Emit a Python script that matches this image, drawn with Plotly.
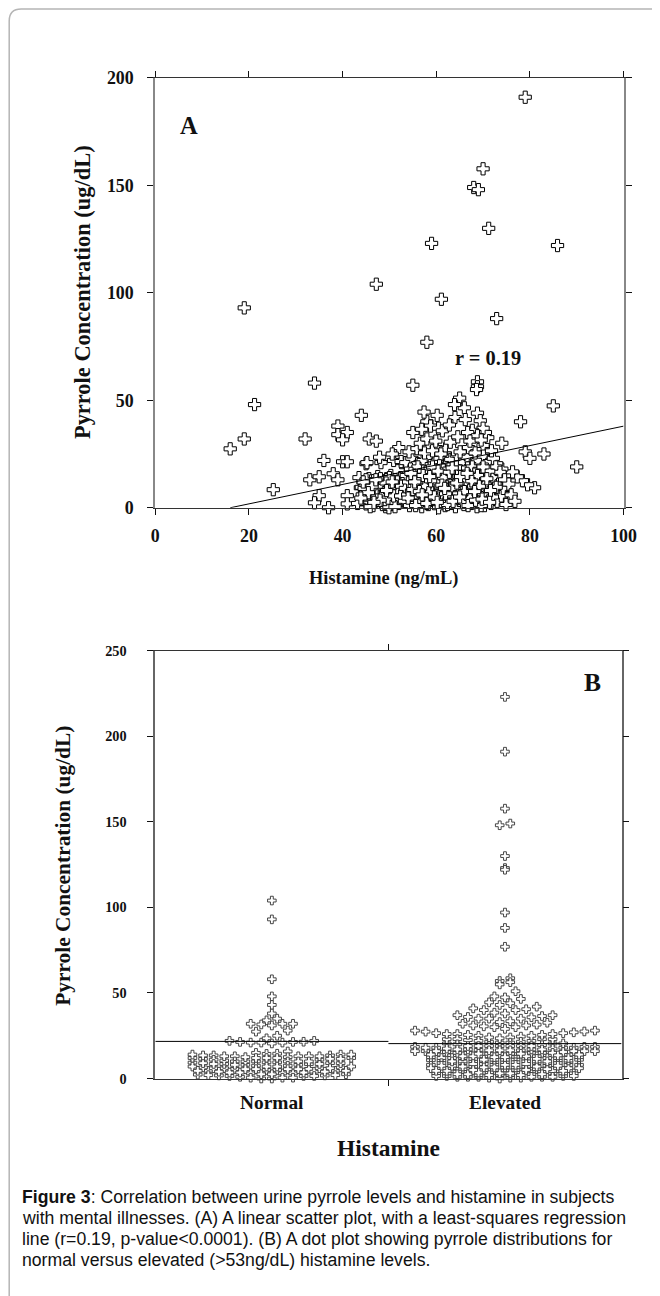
import numpy as np
import plotly.graph_objects as go

# ---------------- Panel A data (histamine ng/mL vs pyrrole ug/dL) ----------------
# subjects with normal histamine (< 53)
hist_normal = [19, 34, 21.2, 16, 19, 25.2, 32, 44, 39, 39,
               41, 40, 45.7, 47.2, 36, 40, 41, 45, 33, 35,
               38, 39, 35, 34, 37, 41, 41, 45, 43.8, 47.2, 52,
               43.5, 44.2, 44.8, 45.3, 45.6, 46.0, 46.2, 46.5, 46.8, 47.0,
               47.3, 47.5, 47.8, 48.0, 48.2, 48.4, 48.6, 48.8, 49.0, 49.2,
               49.4, 49.6, 49.8, 50.0, 50.1, 50.3, 50.5, 50.7, 50.9, 51.0,
               51.2, 51.4, 51.6, 51.8, 52.0, 52.2, 52.4, 52.6, 52.8, 44.0,
               45.0, 45.8, 46.6, 47.6, 48.5, 49.5, 50.4, 51.3, 52.1, 52.7,
               43.2, 44.6, 46.4, 47.2, 48.1, 49.1, 50.0, 50.8, 51.5, 52.3,
               45.2, 47.9, 50.6, 52.5, 46.9, 48.7, 49.9, 51.1, 52.9, 44.4,
               45.9, 47.4, 48.9, 50.2, 51.7, 52.2, 46.3, 49.3, 51.9, 48.3,
               50.6, 47.1, 52.6, 45.5, 49.7, 51.2, 43.9, 48.0, 50.9, 46.7,
               49.4, 52.4]
pyr_normal = [93, 58, 48, 27.4, 32, 8.4, 32, 43, 38, 34,
              35, 31.6, 32, 31, 22, 21.4, 21.4, 20.5, 13, 14.4,
              15.8, 13, 5.6, 2.3, 0, 5.6, 1.8, 1.8, 9.3, 104, 28,
              14, 6, 11, 3, 13.5, 8, 12.5, 1, 12, 5,
              10, 14.5, 2.5, 7.5, 21, 12, 4, 8.5, 9, 0.5,
              13.5, 6, 10, 3, 11, 15, 7, 1.5, 22, 9.5,
              13, 4.5, 6, 10.5, 2, 6.5, 14, 21, 8, 9.5,
              13, 4, 4.5, 11.5, 1.5, 1.5, 5, 3, 11.5, 3.5,
              2, 9, 6.5, 7, 13.5, 3.5, 14, 10, 6, 9,
              21, 23.5, 25, 21.5, 8.5, 10, 0, 2.5, 12.5, 12,
              0.5, 5.5, 7, 8.5, 12, 4, 10, 11.5, 7.5, 5.5,
              12, 13, 10, 7, 4.5, 0.5, 4.5, 3.5, 5.5, 2.5,
              8, 5.5]

# subjects with elevated histamine (>= 53)
hist_elev_outer = [79, 70, 68, 69, 71.2, 59, 85.9, 61.1, 72.9, 58,
                   55, 68.8, 68.8, 68.6, 85, 65, 66, 68.8, 69.4, 78,
                   64, 58, 58.8, 60.5, 61.3, 55, 74, 79, 80, 83,
                   90, 81, 79.5, 78.4, 77.3, 76.3, 75, 75.2, 74, 72.9,
                   71, 70.5, 70, 70, 67.7, 66.7, 68.8, 60, 62, 65]
pyr_elev_outer = [191, 157.7, 149, 148, 130, 123, 122, 97, 88, 77,
                  57, 58.6, 56.3, 55, 47.4, 51, 46.5, 44, 40.5, 40,
                  42, 40, 38, 37, 35.8, 35, 30, 26, 23, 25,
                  19, 9.3, 10.7, 12.6, 14.4, 16.7, 7.9, 4.7, 18, 20.5,
                  32.6, 35, 37, 29, 36, 35, 33.5, 28, 27.4, 223]

hist_elev_mid = [53.5, 54.8, 56.0, 57.2, 58.5, 59.6, 60.8, 62.0, 63.1, 64.3,
                 65.5, 66.6, 67.8, 68.9, 70.1, 71.3, 72.2, 54.2, 55.9, 57.5,
                 59.2, 61.0, 63.7, 65.1, 66.9, 68.3, 71.8, 56.6, 58.0, 59.9,
                 63.0, 64.6, 67.2, 69.6, 56.9, 62.8, 66.2, 60.2, 57.4, 63.9]
pyr_elev_mid = [21, 23, 20.5, 22, 24, 21.5, 23, 20, 22.5, 24.5,
                21, 23.5, 20.5, 22, 24, 21.5, 23, 26, 27.5, 25.5,
                26.5, 25, 27, 26, 28, 25.5, 26.5, 30, 32, 31,
                30.5, 33, 31, 31.5, 36.5, 38.5, 41, 43, 44.5, 48]

hist_elev_core = [53.2, 53.4, 53.6, 53.9, 54.1, 54.3, 54.5, 54.7, 54.9, 55.1, 55.3, 55.5, 55.7, 55.9, 56.1, 56.3, 56.5,
                  56.7, 56.9, 57.1, 57.3, 57.5, 57.7, 57.9, 58.1, 58.3, 58.5, 58.7, 58.9, 59.1, 59.3, 59.5, 59.7, 59.9,
                  60.1, 60.3, 60.5, 60.7, 60.9, 61.1, 61.3, 61.5, 61.7, 61.9, 62.1, 62.3, 62.5, 62.7, 62.9, 63.1, 63.3,
                  63.5, 63.7, 63.9, 64.1, 64.3, 64.5, 64.7, 64.9, 65.1, 65.3, 65.5, 65.7, 65.9, 66.1, 66.3, 66.5, 66.7,
                  66.9, 67.1, 67.3, 67.5, 67.7, 67.9, 68.1, 68.3, 68.5, 68.7, 68.9, 69.1, 69.3, 69.5, 69.7, 69.9, 70.1,
                  70.3, 70.5, 70.7, 70.9, 71.1, 71.3, 71.5, 71.7, 71.9, 72.1, 72.4, 72.7, 73.0, 73.3, 73.6, 73.9,
                  74.3, 74.6, 74.9, 75.5, 76.0, 76.8,
                  54.0, 55.0, 56.0, 56.8, 57.6, 58.4, 59.2, 60.0, 60.8, 61.6, 62.4, 63.2, 64.0, 64.8, 65.6, 66.4,
                  67.2, 68.0, 68.8, 69.6, 70.4, 71.2, 72.0, 72.8,
                  54.6, 55.6, 56.4, 57.2, 58.0, 58.8, 59.6, 60.4, 61.2, 62.0, 62.8, 63.6, 64.4, 65.2, 66.0, 66.8,
                  67.6, 68.4, 69.2, 70.0, 70.8, 71.6,
                  55.4, 57.0, 58.6, 60.2, 61.8, 63.4, 65.0, 66.6, 68.2, 69.8, 71.4]
pyr_elev_core = [3, 9, 15, 6, 12, 1, 18, 7.5, 13.5, 4, 10, 16.5, 2, 8, 19, 11.5, 5,
                 14, 0.5, 9, 17, 3.5, 12, 6.5, 15.5, 1.5, 10.5, 18.5, 4.5, 13, 8, 16, 2.5, 11,
                 6, 14.5, 0, 19.5, 9.5, 3, 12.5, 17.5, 7, 1, 15, 10, 4.5, 18, 8.5, 13.5, 2,
                 16, 5.5, 11, 0.5, 19, 8, 14, 3.5, 17, 10, 6, 12.5, 1.5, 15.5, 9, 4, 18.5,
                 11.5, 7, 14.5, 2, 19, 9.5, 5, 16, 12, 0.5, 8, 17.5, 3, 13, 6.5, 10.5, 15,
                 1, 8.5, 18, 4, 12, 6, 16, 2, 10, 14, 7, 19, 3, 11, 16.5, 5.5,
                 9, 13, 1.5, 11, 6, 3,
                 4.5, 8.5, 13, 3, 10, 7, 19, 12, 5.5, 14, 1.5, 9, 16.5, 6.5, 2.5, 13,
                 4.5, 10, 15, 1, 11, 17, 5, 9.5,
                 16, 1, 7.5, 15, 2, 12.5, 5, 17, 10.5, 6.5, 16.5, 3, 11.5, 14.5, 7.5, 1,
                 12.5, 3.5, 10, 19, 13.5, 8,
                 12, 6, 14.5, 2.5, 9, 18.5, 5, 16, 7.5, 4, 2.5]

hist_elev = hist_elev_outer + hist_elev_mid + hist_elev_core
pyr_elev = pyr_elev_outer + pyr_elev_mid + pyr_elev_core

# least-squares regression line
fit_slope = 0.452
fit_intercept = -7.24
fit_x = [16, 100]

# ---------------- Panel B ----------------
group_labels = ["Normal", "Elevated"]
group_centers = [0.25, 0.75]
group_lines = [21.7, 20.4]

a_xticks = [0, 20, 40, 60, 80, 100]
a_yticks = [0, 50, 100, 150, 200]
b_yticks = [0, 50, 100, 150, 200, 250]

SERIF = "Liberation Serif"
SANS = "Liberation Sans"

# The photographed page comes out slightly reduced and shifted; place everything
# so that it lands on the reference pixel positions.
SX, SY = 0.974, 0.985
OX, OY = 4.0, 9.2
BODY = 8
W, H = 668, 1302
FS = 1.0 / 0.98


def px(x):
    return ((x - OX) / SX - BODY) / W


def py(y):
    return 1 - ((y - OY) / SY - BODY) / H


def dot_rows(values, bin_w=4.7, max_cols=19):
    """Prism-like dot plot: values in the same row bin are spread sideways,
    wrapping into overlapping columns when a row is wider than max_cols."""
    vals = np.asarray(values, dtype=float)
    bins = np.floor(vals / bin_w).astype(int)
    pos = np.zeros(len(vals))
    for b in np.unique(bins):
        idx = np.where(bins == b)[0]
        idx = idx[np.argsort(vals[idx], kind="stable")]
        n = len(idx)
        per = int(np.ceil(n / max_cols))
        ncols = int(np.ceil(n / per))
        slots = np.arange(ncols) - (ncols - 1) / 2.0
        slots = slots[np.argsort(np.abs(slots) + 1e-3 * slots, kind="stable")]
        for k, i in enumerate(idx):
            pos[i] = slots[k % ncols]
    return pos


fig = go.Figure()

# Panel A scatter
all_h = np.array(hist_normal + hist_elev)
all_p = np.array(pyr_normal + pyr_elev)
mask = all_p <= 200
fig.add_trace(go.Scatter(
    x=all_h[mask], y=all_p[mask], mode="markers", xaxis="x", yaxis="y",
    marker=dict(symbol="cross", size=10 * FS, color="white",
                line=dict(color="black", width=1)),
    cliponaxis=False, showlegend=False, hoverinfo="skip"))
fx = np.array(fit_x, dtype=float)
fig.add_trace(go.Scatter(
    x=fx, y=fit_slope * fx + fit_intercept, mode="lines", xaxis="x", yaxis="y",
    line=dict(color="black", width=1), showlegend=False, hoverinfo="skip"))

# Panel B dot plot
col_step = 0.0227
for vals, c in zip([pyr_normal, pyr_elev], group_centers):
    offs = dot_rows(vals)
    fig.add_trace(go.Scatter(
        x=c + offs * col_step, y=vals, mode="markers", xaxis="x2", yaxis="y2",
        marker=dict(symbol="cross", size=7 * FS, color="white",
                    line=dict(color="#333", width=0.9)),
        cliponaxis=False, showlegend=False, hoverinfo="skip"))
for c, m in zip(group_centers, group_lines):
    fig.add_trace(go.Scatter(
        x=[c - 0.25, c + 0.25], y=[m, m], mode="lines", xaxis="x2", yaxis="y2",
        line=dict(color="black", width=1), showlegend=False, hoverinfo="skip"))

tick_a = dict(family=SERIF, size=17.5 * FS, color="#111", weight="bold")
tick_b = dict(family=SERIF, size=14 * FS, color="#111", weight="bold")

fig.update_layout(
    width=W, height=H, autosize=False,
    margin=dict(l=0, r=0, t=0, b=0),
    paper_bgcolor="white", plot_bgcolor="white",
    xaxis=dict(domain=[px(155), px(623)], range=[0, 100], tickvals=a_xticks,
               ticks="outside", ticklen=6, tickcolor="#111", mirror="ticks",
               showline=True, linecolor="#333", linewidth=1.3,
               showgrid=False, zeroline=False, anchor="y",
               tickfont=tick_a, ticklabelstandoff=6),
    yaxis=dict(domain=[py(507), py(77)], range=[0, 200], tickvals=a_yticks,
               ticks="outside", ticklen=6, tickcolor="#111", mirror="ticks",
               showline=True, linecolor="#888", linewidth=2,
               showgrid=False, zeroline=False, anchor="x",
               tickfont=tick_a, ticklabelstandoff=10),
    xaxis2=dict(domain=[px(155), px(621)], range=[0, 1], tickvals=[0.5],
                showticklabels=False,
                ticks="outside", ticklen=6, tickcolor="#111", mirror="ticks",
                showline=True, linecolor="#333", linewidth=1.3,
                showgrid=False, zeroline=False, anchor="y2"),
    yaxis2=dict(domain=[py(1078), py(650)], range=[0, 250], tickvals=b_yticks,
                ticks="outside", ticklen=6, tickcolor="#111", mirror="ticks",
                showline=True, linecolor="#666", linewidth=1.6,
                showgrid=False, zeroline=False, anchor="x2",
                tickfont=tick_b, ticklabelstandoff=18),
)

ann = []


def add_text(x, y, text, size, family=SERIF, bold=True, angle=0, xanchor="center", color="#111", xref="paper"):
    ann.append(dict(x=x, y=y, xref=xref, yref="paper", text=text, showarrow=False,
                    textangle=angle, xanchor=xanchor, yanchor="middle",
                    font=dict(family=family, size=size * FS, color=color,
                              weight="bold" if bold else "normal")))


add_text(px(189), py(125), "A", 24)
add_text(px(488), py(357), "r = 0.19", 20)
add_text(px(383), py(578), "Histamine (ng/mL)", 18)
add_text(px(83), py(291), "Pyrrole Concentration (ug/dL)", 22, angle=-90)
add_text(px(592), py(682), "B", 25)
add_text(px(62), py(865), "Pyrrole Concentration (ug/dL)", 21, angle=-90)
for lab, c in zip(group_labels, group_centers):
    add_text(c, py(1102), lab, 19, xref="x2")
add_text(px(388), py(1147), "Histamine", 23)

caption = [
    "<b>Figure 3</b>: Correlation between urine pyrrole levels and histamine in subjects",
    "with mental illnesses. (A) A linear scatter plot, with a least-squares regression",
    "line (r=0.19, p-value<0.0001). (B) A dot plot showing pyrrole distributions for",
    "normal versus elevated (>53ng/dL) histamine levels.",
]
for i, line in enumerate(caption):
    add_text(px(20), py(1197 + 21 * i), line, 17.3, family=SANS, bold=False,
             xanchor="left", color="#111")

fig.update_layout(annotations=ann)

# outer rounded frame
r = 12
frame_path = (f"M {px(9)},{py(1330)} L {px(9)},{py(8 + r)} "
              f"Q {px(9)},{py(8)} {px(9 + r)},{py(8)} L {px(720)},{py(8)}")
fig.add_shape(type="path", path=frame_path, xref="paper", yref="paper",
              line=dict(color="#b5b5b5", width=1.5))

fig.write_html("out.html", config={"displayModeBar": False})
